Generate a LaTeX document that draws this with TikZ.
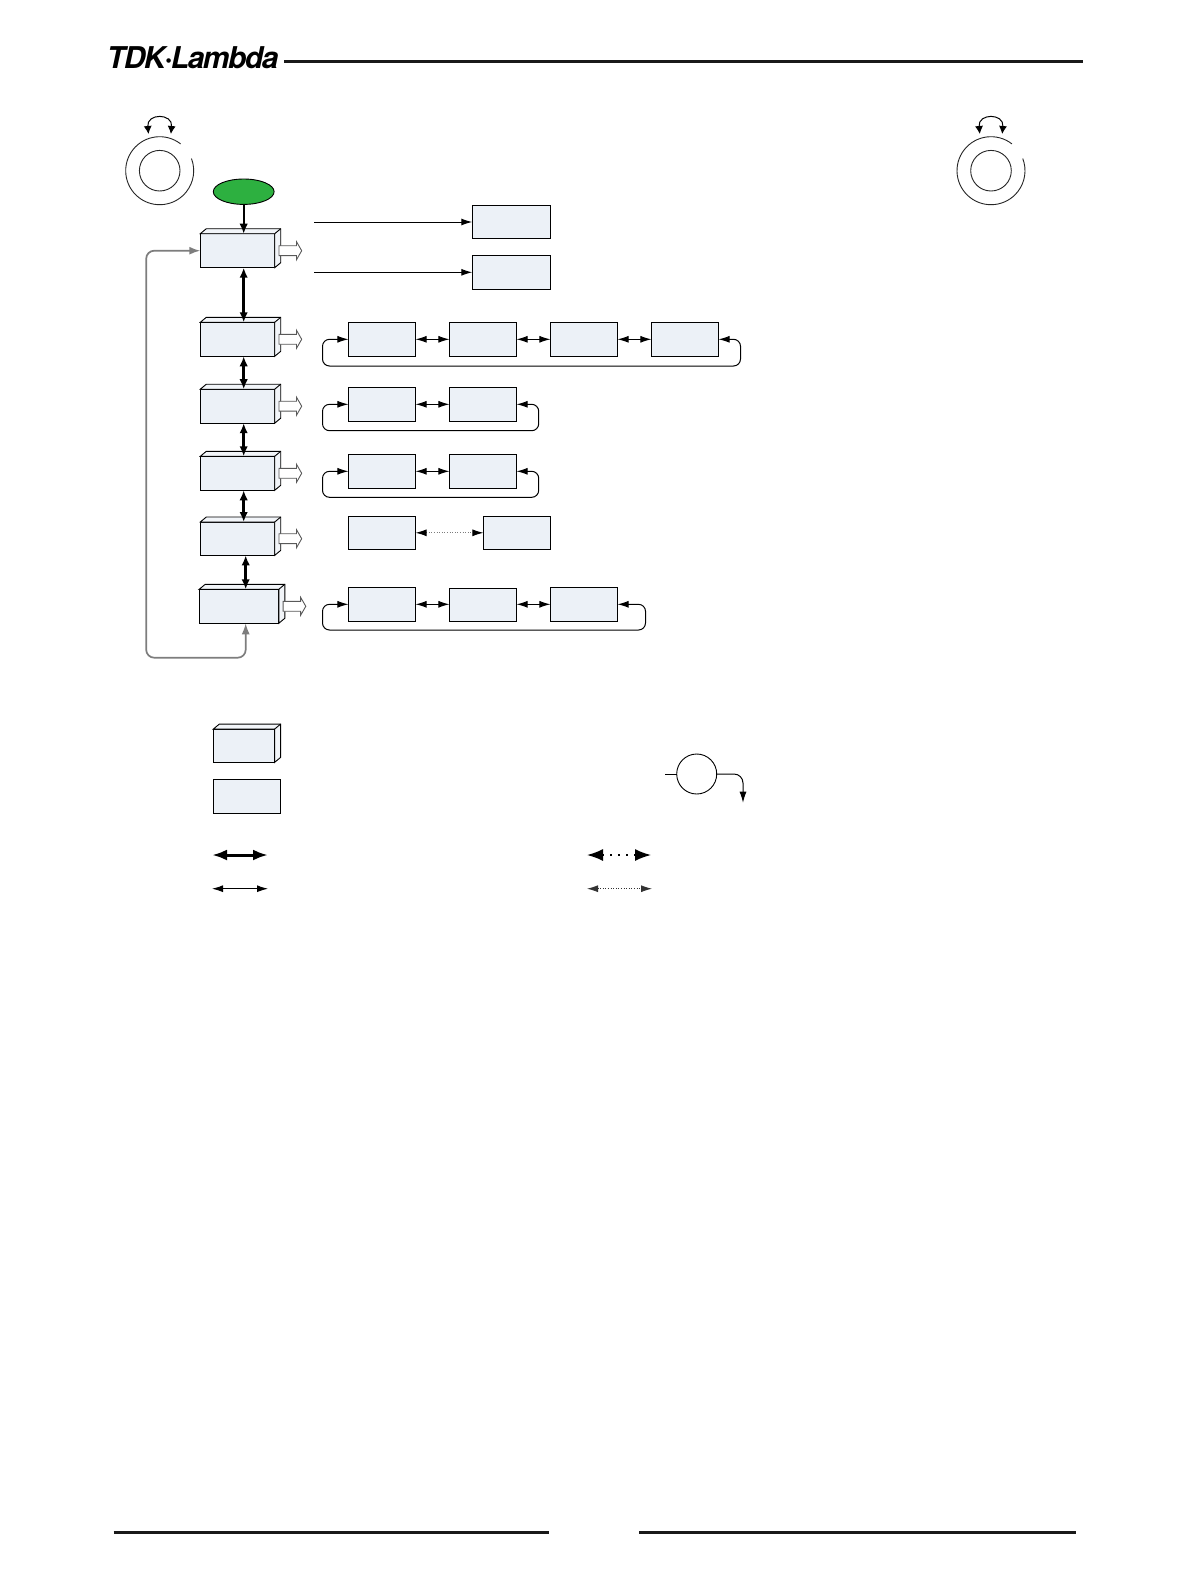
\documentclass[tikz,border=0pt]{standalone}
\usepackage{fontspec}
\usepackage{xcolor}
\newfontfamily\logofont[LetterSpace=-5.0]{TeX Gyre Heros}
\definecolor{menublue}{RGB}{236, 241, 247}
\definecolor{startgreen}{RGB}{45, 176, 64}
\definecolor{loopgray}{RGB}{125, 125, 125}
\usetikzlibrary{arrows.meta, positioning, shapes.geometric, shapes.arrows, calc}
\tikzset{
  menubox/.style={draw=black, line width=1pt, fill=menublue, inner sep=0pt, outer sep=0pt,
        minimum width=74.4pt, minimum height=34pt},
  itembox/.style={draw=black, line width=1pt, fill=menublue, inner sep=0pt, outer sep=0pt,
        minimum width=67.2pt, minimum height=34pt},
  outarrow/.style={single arrow, draw=black!65, fill=white, line width=0.9pt, inner xsep=0pt, inner ysep=4.5pt, outer sep=0pt,
        minimum height=22.7pt, single arrow head extend=4pt, single arrow tip angle=120},
  boldlink/.style={{Latex[length=10pt,width=8.5pt]}-{Latex[length=10pt,width=8.5pt]}, line width=2.5pt},
  thinlink/.style={{Latex[length=11pt,width=7pt]}-{Latex[length=11pt,width=7pt]}, line width=1pt},
  dotlink/.style={{Latex[length=11pt,width=7pt,black]}-{Latex[length=11pt,width=7pt,black]},
        line width=0.9pt, loopgray, dash pattern=on 1pt off 1.6pt},
  looplink/.style={thinlink, rounded corners=7pt},
  knobline/.style={line width=0.9pt, black!85},
  rule/.style={line width=3pt, black!90}
}
% front of the box is the node, top and side are added here
\newcommand{\boxfaces}[1]{
  \draw[line width=0.9pt, fill=menublue!70!white] (#1.north west) -- ++(6,-5)
    -- ($(#1.north east)+(6,-5)$) -- ($(#1.south east)+(6,-5)$) -- (#1.south east)
    -- (#1.north east) -- cycle;
  \draw[line width=0.9pt] (#1.north east) -- ++(6,-5);
}
\begin{document}
\begin{tikzpicture}[x=1pt, y=-1pt]
  \useasboundingbox (0,0) rectangle (1191,1588);
  \fill[white] (0,0) rectangle (1191,1588);

  % header and footer
  \node[anchor=base west, inner sep=0pt] (logo) at (106.7,68.3)
    {\logofont\bfseries\itshape\fontsize{30}{30}\selectfont TDK·Lambda};
  \draw[rule] (284,61) -- (1083,61);
  \draw[rule] (113.5,1532.5) -- (549,1532.5);
  \draw[rule] (639,1532.5) -- (1075.5,1532.5);

  % knobs
  \node[circle, draw, knobline, minimum size=40.6pt, inner sep=0pt] (knobl) at (159.7,170.7) {};
  \draw[knobline] ($(knobl)+(-52:34)$) arc[start angle=-52, end angle=-381, radius=34];
  \draw[thinlink, {Latex[length=8pt,width=8pt]}-{Latex[length=8pt,width=8pt]}]
    (148.5,134) .. controls (146.5,113) and (172.9,113) .. (170.9,134);
  \node[circle, draw, knobline, minimum size=40.6pt, inner sep=0pt] (knobr) at (991,170.7) {};
  \draw[knobline] ($(knobr)+(-52:34)$) arc[start angle=-52, end angle=-381, radius=34];
  \draw[thinlink, {Latex[length=8pt,width=8pt]}-{Latex[length=8pt,width=8pt]}]
    (979.8,134) .. controls (977.8,113) and (1004.2,113) .. (1002.2,134);

  % main menu column
  \node[ellipse, draw=black, line width=0.9pt, fill=startgreen, minimum width=60.8pt, minimum height=25.4pt,
        inner sep=0pt, outer sep=0pt] (start) at (243.7,191.7) {};
  \node[menubox] (m1) at (237.5,250.7) {};
  \node[menubox] (m2) at (237.5,339.3) {};
  \node[menubox] (m3) at (237.5,406.2) {};
  \node[menubox] (m4) at (237.5,473.3) {};
  \node[menubox, minimum height=33.4pt] (m5) at (237.5,538.7) {};
  \node[menubox, minimum width=79.6pt] (m6) at (239,606.3) {};
  \boxfaces{m1}
  \boxfaces{m2}
  \boxfaces{m3}
  \boxfaces{m4}
  \boxfaces{m5}
  \boxfaces{m6}
  \node[outarrow, right=4.3pt of m1] (o1) {};
  \node[outarrow, right=4.3pt of m2] (o2) {};
  \node[outarrow, right=4.3pt of m3] (o3) {};
  \node[outarrow, right=4.3pt of m4] (o4) {};
  \node[outarrow, right=4.3pt of m5] (o5) {};
  \node[outarrow, right=4.3pt of m6] (o6) {};

  \coordinate (tap) at (245.7,657.7);
  \draw[-{Latex[length=10pt,width=8.5pt]}, line width=1.8pt] (start) -- (m1.north -| start);
  \draw[boldlink] (m1.south -| start) -- (m2.north -| start);
  \draw[boldlink] (m2.south -| start) -- (m3.north -| start);
  \draw[boldlink] (m3.south -| start) -- (m4.north -| start);
  \draw[boldlink] (m4.south -| start) -- (m5.north -| start);
  \draw[boldlink] (m5.south -| tap) -- (m6.north -| tap);
  \draw[{Latex[length=11pt,width=8pt]}-{Latex[length=11pt,width=8pt]}, line width=1.7pt, loopgray, rounded corners=8pt]
    (m6.south -| tap) -- (tap) -- (146.2,657.7) -- (146.2,250.7) -- (m1.west);

  % items reached from the first menu
  \node[itembox, minimum width=78.4pt, minimum height=33.4pt] (top1) at (511.5,222) {};
  \node[itembox, minimum width=78.4pt] (top2) at (511.5,272.3) {};
  \coordinate (from1) at (314,222);
  \coordinate (from2) at (314,272.3);
  \draw[-{Latex[length=11pt,width=7pt]}, line width=1pt] (from1) -- (top1);
  \draw[-{Latex[length=11pt,width=7pt]}, line width=1pt] (from2) -- (top2);

  % item rows
  \node[itembox] (r2a) at (382,339.3) {};
  \node[itembox, right=33.8pt of r2a] (r2b) {};
  \node[itembox, right=33.8pt of r2b] (r2c) {};
  \node[itembox, right=33.8pt of r2c] (r2d) {};
  \draw[thinlink] (r2a) -- (r2b);
  \draw[thinlink] (r2b) -- (r2c);
  \draw[thinlink] (r2c) -- (r2d);
  \draw[looplink] (r2a.west) -- (322.5,339.3) -- (322.5,366) -- (740.5,366) -- (740.5,339.3) -- (r2d.east);

  \node[itembox] (r3a) at (382,404.3) {};
  \node[itembox, right=33.8pt of r3a] (r3b) {};
  \draw[thinlink] (r3a) -- (r3b);
  \draw[looplink] (r3a.west) -- (322.5,404.3) -- (322.5,430.7) -- (538.7,430.7) -- (538.7,404.3) -- (r3b.east);

  \node[itembox] (r4a) at (382,471.3) {};
  \node[itembox, right=33.8pt of r4a] (r4b) {};
  \draw[thinlink] (r4a) -- (r4b);
  \draw[looplink] (r4a.west) -- (322.5,471.3) -- (322.5,497.3) -- (538.7,497.3) -- (538.7,471.3) -- (r4b.east);

  \node[itembox, minimum height=33pt] (r5a) at (382,532.8) {};
  \node[itembox, minimum height=33pt, right=67.8pt of r5a] (r5b) {};
  \draw[dotlink] (r5a) -- (r5b);

  \node[itembox] (r6a) at (382,604.3) {};
  \node[itembox, minimum height=33pt] (r6b) at (483,604.8) {};
  \node[itembox] (r6c) at (584,604.3) {};
  \draw[thinlink] (r6a) -- (r6a -| r6b.west);
  \draw[thinlink] (r6a -| r6b.east) -- (r6c);
  \draw[looplink] (r6a.west) -- (322.5,604.3) -- (322.5,630) -- (645.5,630) -- (645.5,604.3) -- (r6c.east);

  % legend
  \node[menubox, minimum width=61.3pt, minimum height=33.3pt] (keymenu) at (244,745.7) {};
  \boxfaces{keymenu}
  \node[itembox, minimum height=34pt] (keyitem) at (247,796.3) {};
  \node[circle, draw=black, line width=0.9pt, minimum size=40pt, inner sep=0pt, outer sep=0pt] (keytap) at (696.7,774) {};
  \coordinate (keyin) at (665.3,774);
  \coordinate (keyout) at (743,802.7);
  \draw[line width=0.9pt] (keyin) -- (keytap);
  \draw[-{Latex[length=11pt,width=7pt]}, line width=1pt, rounded corners=9pt] (keytap.east) -| (keyout);

  \coordinate (ka) at (212,855);
  \coordinate (kb) at (268,855);
  \coordinate (kc) at (212,888.7);
  \coordinate (kd) at (268,888.7);
  \draw[{Latex[length=15pt,width=11pt]}-{Latex[length=15pt,width=11pt]}, line width=3pt] (ka) -- (kb);
  \draw[thinlink] (kc) -- (kd);
  \coordinate (ke) at (587,855);
  \coordinate (kf) at (651,855);
  \coordinate (kg) at (587,888.7);
  \coordinate (kh) at (652,888.7);
  \draw[{Latex[length=16pt,width=12pt]}-{Latex[length=16pt,width=12pt]}, line width=1.6pt, dash pattern=on 1.6pt off 6.4pt] (ke) -- (kf);
  \draw[dotlink, {Latex[length=11pt,width=7pt]}-{Latex[length=11pt,width=7pt]}, black!80] (kg) -- (kh);
\end{tikzpicture}
\end{document}
